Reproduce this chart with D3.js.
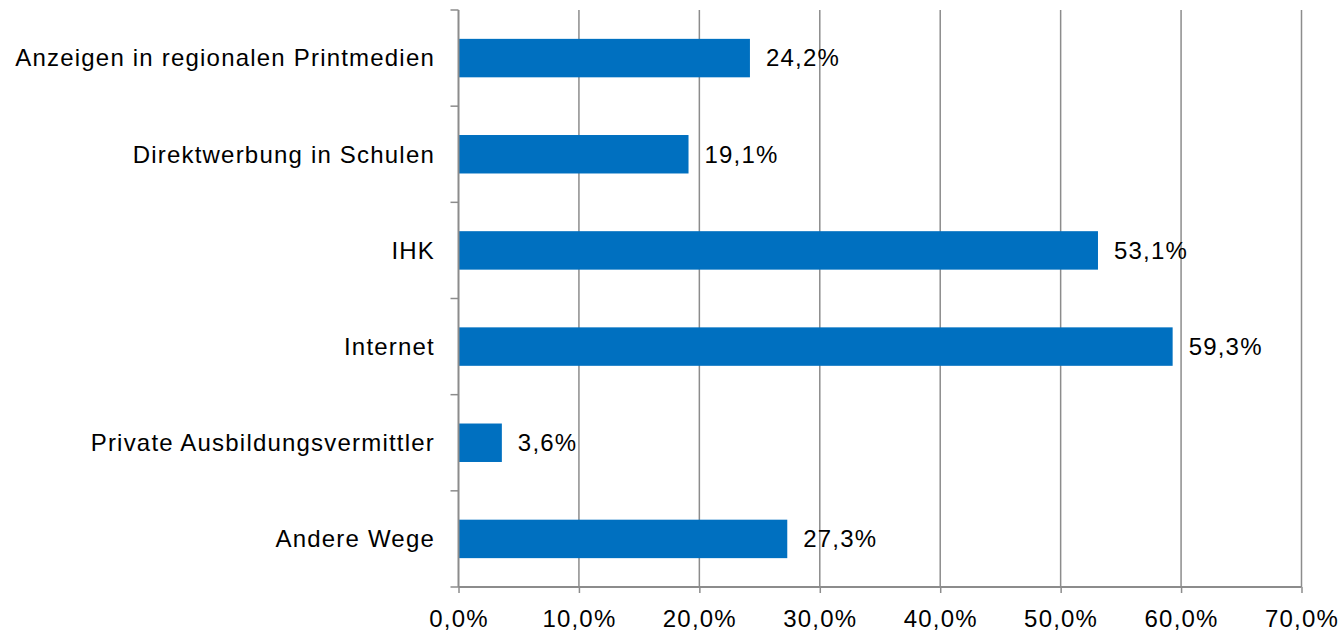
<!DOCTYPE html>
<html>
<head>
<meta charset="utf-8">
<script src="https://cdn.jsdelivr.net/npm/d3@7"></script>
<style>
  body { margin: 0; background: #fff; }
  text { font-family: "Liberation Sans", Arial, sans-serif; fill: #000; letter-spacing: 1.2px; }
</style>
</head>
<body>
<svg id="chart"></svg>
<script>
var categories = ["Anzeigen in regionalen Printmedien", "Direktwerbung in Schulen", "IHK", "Internet", "Private Ausbildungsvermittler", "Andere Wege"];
var values = [24.2, 19.1, 53.1, 59.3, 3.6, 27.3];
var tickValues = [0, 10, 20, 30, 40, 50, 60, 70];

var svgWidth = 1343, svgHeight = 633;
var plotLeft = 458.5, plotRight = 1301.5, plotTop = 10, plotBottom = 587;

var svg = d3.select("#chart")
  .attr("width", svgWidth)
  .attr("height", svgHeight);

var x = d3.scaleLinear().domain([0, 70]).range([plotLeft, plotRight]);
var y = d3.scaleBand().domain(categories).range([plotTop, plotBottom]).paddingInner(0.6).paddingOuter(0.3);

var fmt = function(v) { return v.toFixed(1).replace(".", ",") + "%"; };

// gridlines
svg.append("g")
  .selectAll("line")
  .data(tickValues.slice(1))
  .enter().append("line")
  .attr("x1", function(d) { return x(d); })
  .attr("x2", function(d) { return x(d); })
  .attr("y1", plotTop)
  .attr("y2", plotBottom)
  .attr("stroke", "#8c8c8c")
  .attr("stroke-width", 1.5);

// bars
svg.append("g")
  .selectAll("rect")
  .data(values)
  .enter().append("rect")
  .attr("x", x(0))
  .attr("y", function(d, i) { return y(categories[i]); })
  .attr("width", function(d) { return x(d) - x(0); })
  .attr("height", y.bandwidth())
  .attr("fill", "#0070C0");

// value labels
svg.append("g")
  .selectAll("text")
  .data(values)
  .enter().append("text")
  .attr("x", function(d) { return x(d) + 16; })
  .attr("y", function(d, i) { return y(categories[i]) + y.bandwidth() / 2; })
  .attr("dy", "0.35em")
  .style("font-size", "24px")
  .text(fmt);

// x axis
var xAxis = d3.axisBottom(x).tickValues(tickValues).tickSize(6).tickPadding(17).tickFormat(fmt);
var gx = svg.append("g")
  .attr("transform", "translate(0," + plotBottom + ")")
  .call(xAxis);
gx.select(".domain").attr("stroke", "#8c8c8c").attr("stroke-width", 2).attr("d", "M" + plotLeft + ",0H" + plotRight);
gx.selectAll(".tick line").attr("stroke", "#8c8c8c").attr("stroke-width", 1.5);
gx.selectAll(".tick text").style("font-size", "24px").style("font-family", "Liberation Sans, Arial, sans-serif").attr("fill", "#000");

// y axis with ticks at band boundaries
var yEdges = d3.range(categories.length + 1).map(function(i) { return plotTop + i * (plotBottom - plotTop) / categories.length; });
var gy = svg.append("g");
gy.append("line")
  .attr("x1", plotLeft).attr("x2", plotLeft)
  .attr("y1", plotTop).attr("y2", plotBottom)
  .attr("stroke", "#8c8c8c").attr("stroke-width", 2);
gy.selectAll(".yt")
  .data(yEdges)
  .enter().append("line")
  .attr("class", "yt")
  .attr("x1", plotLeft - 8).attr("x2", plotLeft)
  .attr("y1", function(d) { return d; }).attr("y2", function(d) { return d; })
  .attr("stroke", "#8c8c8c").attr("stroke-width", 1.5);

gy.selectAll(".ylab")
  .data(categories)
  .enter().append("text")
  .attr("class", "ylab")
  .attr("x", 435)
  .attr("y", function(d) { return y(d) + y.bandwidth() / 2; })
  .attr("dy", "0.35em")
  .attr("text-anchor", "end")
  .style("font-size", "24px")
  .text(function(d) { return d; });
</script>
</body>
</html>
